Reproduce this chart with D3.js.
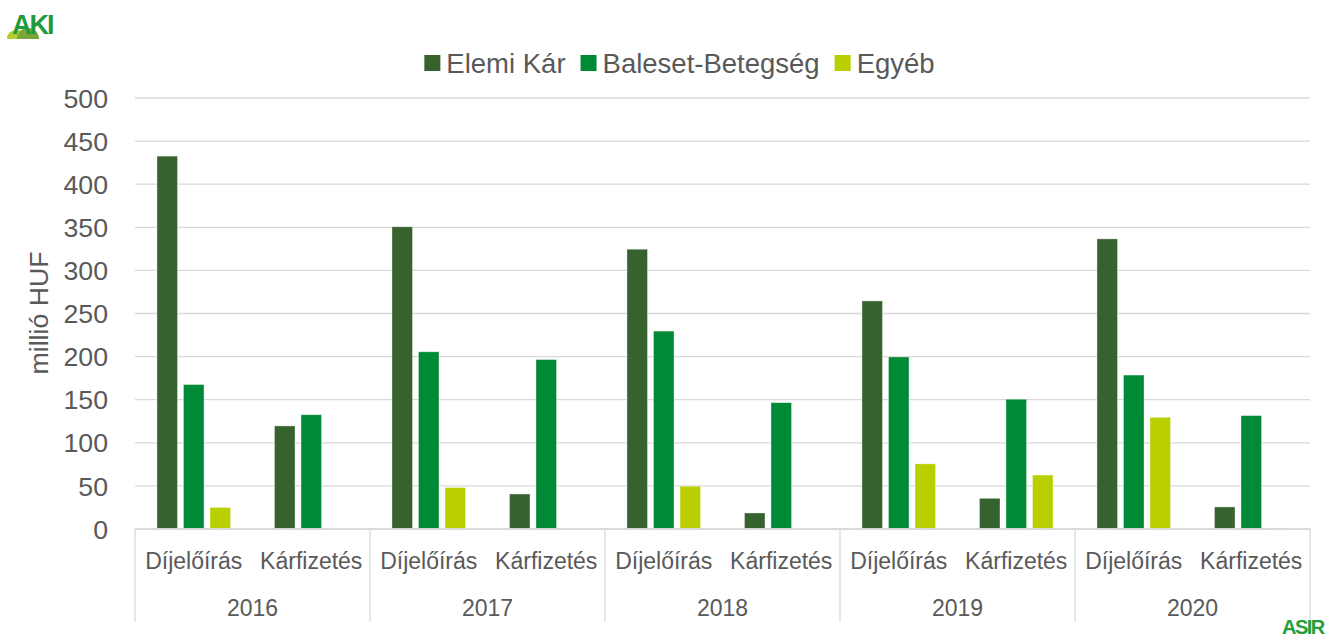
<!DOCTYPE html>
<html>
<head>
<meta charset="utf-8">
<script src="https://cdn.jsdelivr.net/npm/d3@7"></script>
<style>
    body { margin: 0; background: #fff; }
    svg { display: block; font-family: "Liberation Sans", Arial, sans-serif; }
</style>
</head>
<body>
<svg id="chart" width="1331" height="639"></svg>
<script>
// Chart data
const years = ["2016", "2017", "2018", "2019", "2020"];
const types = ["Díjelőírás", "Kárfizetés"];
const seriesNames = ["Elemi Kár", "Baleset-Betegség", "Egyéb"];
const seriesColors = ["#36622d", "#008a36", "#bacf00"];
// values per (year, type), in order 2016 Díj, 2016 Kár, 2017 Díj, ...
const elemiKar = [432, 119, 350, 40, 324, 18, 264, 35, 336, 25];
const balesetBetegseg = [167, 132, 205, 196, 229, 146, 199, 150, 178, 131];
const egyeb = [24.5, 0, 47.5, 0, 49, 0, 75, 62, 129, 0.6];
const yTicks = [0, 50, 100, 150, 200, 250, 300, 350, 400, 450, 500];

const svg = d3.select("#chart");
const textColor = "#595959";
const gridColor = "#d9d9d9";

const plotLeft = 135, plotRight = 1310, plotTop = 97.5, plotBottom = 528.5;

// Build rows from the arrays
const keys = [];
years.forEach(y => types.forEach(t => keys.push(y + "|" + t)));
const rows = keys.map((k, i) => ({
    key: k,
    year: k.split("|")[0],
    type: k.split("|")[1],
    values: [elemiKar[i], balesetBetegseg[i], egyeb[i]]
}));

// Scales
const y = d3.scaleLinear().domain([0, 500]).range([plotBottom, plotTop]);

const x0 = d3.scaleBand()
    .domain(keys)
    .range([plotLeft, plotRight])
    .paddingInner(0.374)
    .paddingOuter(0.187);

const x1 = d3.scaleBand()
    .domain(seriesNames)
    .range([0, x0.bandwidth()])
    .paddingInner(0.226);

const xYear = d3.scaleBand().domain(years).range([plotLeft, plotRight]);

// Y axis with gridlines
const yAxis = svg.append("g")
    .attr("transform", `translate(${plotLeft},0)`)
    .call(d3.axisLeft(y)
        .tickValues(yTicks)
        .tickSize(-(plotRight - plotLeft))
        .tickPadding(27));
yAxis.select(".domain").remove();
yAxis.selectAll(".tick line")
    .attr("stroke", gridColor)
    .attr("stroke-width", 1.3);
yAxis.selectAll(".tick text")
    .attr("fill", textColor)
    .attr("font-size", "26.7px")
    .attr("font-family", "Liberation Sans, Arial, sans-serif")
    .attr("dy", "0.36em");

// Y axis title
svg.append("text")
    .attr("transform", `translate(48,313) rotate(-90)`)
    .attr("text-anchor", "middle")
    .attr("fill", textColor)
    .attr("font-size", "26.7px")
    .text("millió HUF");

// Bars
const groups = svg.append("g").selectAll("g")
    .data(rows)
    .join("g")
    .attr("transform", d => `translate(${x0(d.key)},0)`);

groups.selectAll("rect")
    .data(d => d.values.map((v, i) => ({ name: seriesNames[i], value: v, color: seriesColors[i] })))
    .join("rect")
    .attr("x", d => x1(d.name))
    .attr("y", d => y(d.value))
    .attr("width", x1.bandwidth())
    .attr("height", d => y(0) - y(d.value))
    .attr("fill", d => d.color)
    .attr("stroke", "#ffffff")
    .attr("stroke-opacity", 0.45)
    .attr("stroke-width", 0.8);

// Category axis (two levels)
const xAxis = svg.append("g");
xAxis.append("line")
    .attr("x1", plotLeft).attr("x2", plotRight)
    .attr("y1", plotBottom + 0.5).attr("y2", plotBottom + 0.5)
    .attr("stroke", gridColor)
    .attr("stroke-width", 1.3);

const separators = years.map(yr => xYear(yr)).concat([plotRight]);
xAxis.selectAll("line.sep")
    .data(separators)
    .join("line")
    .attr("class", "sep")
    .attr("x1", d => d).attr("x2", d => d)
    .attr("y1", plotBottom).attr("y2", 622)
    .attr("stroke", gridColor)
    .attr("stroke-width", 1.3);

xAxis.selectAll("text.type")
    .data(rows)
    .join("text")
    .attr("class", "type")
    .attr("x", d => x0(d.key) + x0.bandwidth() / 2)
    .attr("y", 569)
    .attr("text-anchor", "middle")
    .attr("fill", textColor)
    .attr("font-size", "23px")
    .text(d => d.type);

xAxis.selectAll("text.year")
    .data(years)
    .join("text")
    .attr("class", "year")
    .attr("x", d => xYear(d) + xYear.bandwidth() / 2)
    .attr("y", 616)
    .attr("text-anchor", "middle")
    .attr("fill", textColor)
    .attr("font-size", "23px")
    .text(d => d);

// Legend
const legend = svg.append("g");
let lx = 0;
seriesNames.forEach((name, i) => {
    const item = legend.append("g").attr("transform", `translate(${lx},0)`);
    item.append("rect")
        .attr("x", 0).attr("y", 55)
        .attr("width", 16).attr("height", 16)
        .attr("fill", seriesColors[i]);
    const t = item.append("text")
        .attr("x", 22).attr("y", 73)
        .attr("fill", textColor)
        .attr("font-size", "27.5px")
        .text(name);
    lx += 22 + t.node().getComputedTextLength() + 15;
});
const legendWidth = lx - 15;
legend.attr("transform", `translate(${679.5 - legendWidth / 2},0)`);

// AKI logo (top left)
const aki = svg.append("g");
aki.append("ellipse")
    .attr("cx", 17).attr("cy", 38).attr("rx", 10).attr("ry", 8)
    .attr("fill", "#b5cc2e");
aki.append("ellipse")
    .attr("cx", 28).attr("cy", 39).attr("rx", 11).attr("ry", 11)
    .attr("fill", "#7aa53a");
aki.append("rect")
    .attr("x", 0).attr("y", 39).attr("width", 60).attr("height", 12)
    .attr("fill", "#fff");
aki.append("text")
    .attr("x", 12).attr("y", 34)
    .attr("font-size", "27px")
    .attr("font-weight", "bold")
    .attr("letter-spacing", "-2px")
    .attr("fill", "#1f9a3c")
    .text("AKI");

// ASIR logo (bottom right)
svg.append("text")
    .attr("x", 1282).attr("y", 634)
    .attr("font-size", "20px")
    .attr("font-weight", "bold")
    .attr("letter-spacing", "-1.5px")
    .attr("fill", "#21a038")
    .text("ASIR");
</script>
</body>
</html>
